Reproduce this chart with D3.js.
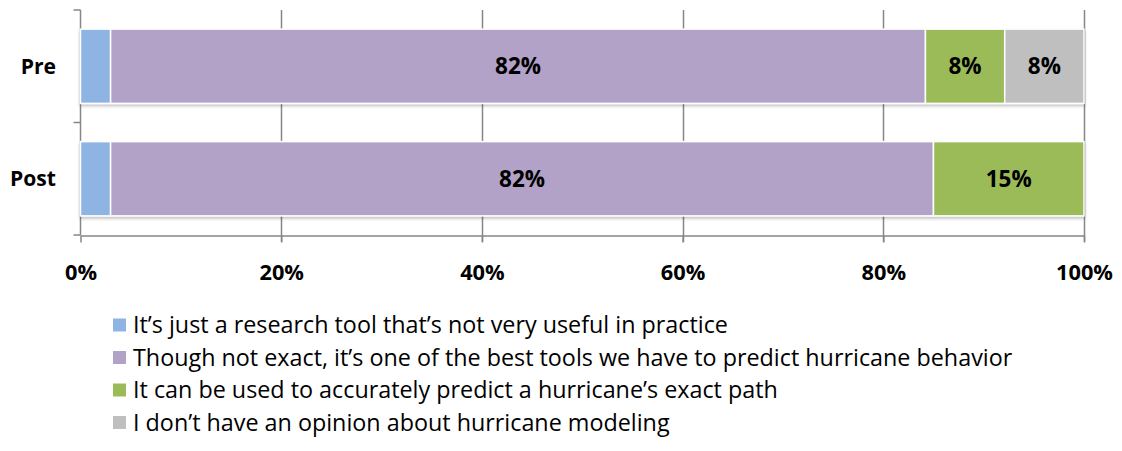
<!DOCTYPE html>
<html><head><meta charset="utf-8">
<script src="https://cdn.jsdelivr.net/npm/d3@7"></script>
<style>body{margin:0;background:#fff;} svg{display:block;font-family:"Open Sans", sans-serif;}</style>
</head><body>
<script>
const categories = ["Pre", "Post"];
const seriesNames = [
  "It\u2019s just a research tool that\u2019s not very useful in practice",
  "Though not exact, it\u2019s one of the best tools we have to predict hurricane behavior",
  "It can be used to accurately predict a hurricane\u2019s exact path",
  "I don\u2019t have an opinion about hurricane modeling"
];
const preValues = [3, 81.2, 7.9, 7.9];
const postValues = [3, 82, 15, 0];
const preLabels = ["", "82%", "8%", "8%"];
const postLabels = ["", "82%", "15%", ""];
const colors = ["#8EB4E3", "#B3A2C7", "#9BBB59", "#BFBFBF"];
const xTicks = [0, 20, 40, 60, 80, 100];

const W = 1122, H = 451;
const svg = d3.select("body").append("svg").attr("width", W).attr("height", H);

function fitSize(text, weight, targetW) {
  const t = svg.append("text").attr("font-size", 20).attr("font-weight", weight).text(text);
  const w = t.node().getComputedTextLength();
  t.remove();
  return 20 * targetW / w;
}
const legendSize = fitSize(seriesNames[1], "normal", 880);
const valSize = fitSize("82%", "bold", 46);
const catSize = fitSize("Post", "bold", 46);
const tickSize = fitSize("100%", "bold", 57);

const defs = svg.append("defs");
const f = defs.append("filter").attr("id","sh").attr("x","-5%").attr("y","-10%").attr("width","110%").attr("height","130%");
f.append("feDropShadow").attr("dx",0).attr("dy",2).attr("stdDeviation",1.5).attr("flood-color","#000").attr("flood-opacity",0.25);

const x = d3.scaleLinear().domain([0, 100]).range([80.5, 1084]);
const y = d3.scaleBand().domain(categories).range([10, 235]).paddingInner(0.34).paddingOuter(0.17);

svg.append("g").selectAll("line").data(xTicks.slice(1)).join("line")
  .attr("x1", d => Math.round(x(d)) + 0.5).attr("x2", d => Math.round(x(d)) + 0.5)
  .attr("y1", 10).attr("y2", 242).attr("stroke", "#868686").attr("stroke-width", 1.5);

const yAxis = svg.append("g").attr("transform", "translate(80.5,0)");
yAxis.append("line").attr("y1", 10).attr("y2", 235).attr("stroke", "#868686").attr("stroke-width", 1.5);
yAxis.selectAll("line.t").data([10, 122.5, 235]).join("line").attr("class","t")
  .attr("x1", -7).attr("x2", 0).attr("y1", d => d).attr("y2", d => d).attr("stroke", "#868686").attr("stroke-width", 1.5);

const xAxis = d3.axisBottom(x).tickValues(xTicks).tickFormat(d => d + "%").tickSize(7).tickSizeOuter(0);
const gx = svg.append("g").attr("transform", "translate(0,235.5)").call(xAxis);
gx.select(".domain").attr("stroke", "#868686").attr("stroke-width", 1.5);
gx.selectAll(".tick line").attr("stroke", "#868686").attr("stroke-width", 1.5);
gx.selectAll(".tick text").attr("y", 35.5).attr("font-size", tickSize).attr("font-weight", "bold")
  .attr("fill", "#000").attr("font-family", "'Open Sans', sans-serif").attr("dominant-baseline", "central").attr("dy", 0);

const data = [preValues, postValues];
const labels = [preLabels, postLabels];
categories.forEach((c, ci) => {
  const g = svg.append("g").attr("filter", "url(#sh)");
  let acc = 0;
  data[ci].forEach((v, si) => {
    const x0 = x(acc), x1 = x(acc + v);
    acc += v;
    if (v <= 0) return;
    g.append("rect").attr("x", x0).attr("y", y(c)).attr("width", x1 - x0).attr("height", y.bandwidth())
      .attr("fill", colors[si]).attr("stroke", "#fff").attr("stroke-width", 1.5);
    if (labels[ci][si]) {
      svg.append("text").attr("x", (x0 + x1) / 2).attr("y", y(c) + y.bandwidth() / 2).attr("dy", "0.35em")
        .attr("text-anchor", "middle").attr("font-size", valSize).attr("font-weight", "bold").attr("fill", "#000")
        .text(labels[ci][si]);
    }
  });
  svg.append("text").attr("x", 56).attr("y", y(c) + y.bandwidth() / 2).attr("dy", "0.35em")
    .attr("text-anchor", "end").attr("font-size", catSize).attr("font-weight", "bold").attr("fill", "#000").text(c);
});

const lg = svg.append("g");
seriesNames.forEach((n, i) => {
  const cy = 325 + i * 32.5;
  lg.append("rect").attr("x", 113).attr("y", cy - 6.5).attr("width", 13).attr("height", 13).attr("fill", colors[i]);
  lg.append("text").attr("x", 133).attr("y", cy).attr("dy", "0.35em").attr("font-size", legendSize).attr("fill", "#000").text(n);
});
</script>
</body></html>
